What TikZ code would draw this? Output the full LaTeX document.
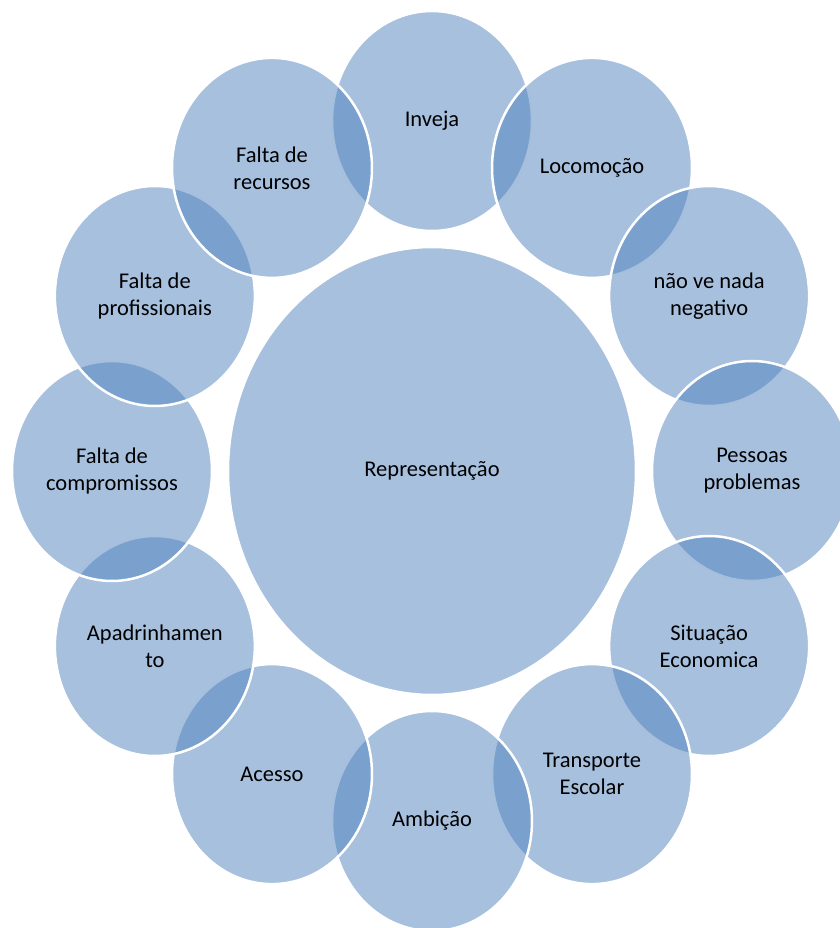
\documentclass[tikz,border=0pt]{standalone}
\usepackage{fontspec}
\setmainfont{Carlito}
\usetikzlibrary{shapes.geometric}
\definecolor{accent}{HTML}{4F81BD}
\newcommand\bolha[3]{\node[bolha] (#1) at (#2:320pt and 350pt) {#3};}

\begin{document}
\begin{tikzpicture}[x=1pt,y=1pt]
\tikzstyle{bolha}=[ellipse,draw=white,line width=2.5pt,fill=accent,fill opacity=0.5,text opacity=1,minimum width=200pt,minimum height=220pt,inner sep=0pt,align=center,font=\fontsize{22.5}{27}\selectfont]
\tikzstyle{centro}=[bolha,minimum width=408pt,minimum height=448pt]
\useasboundingbox (-432,-457) rectangle (407,471);
\node[centro] (representacao) at (0,0) {Representação};
% clockwise from the top, each one laid over the previous
\bolha{inveja}{90}{Inveja}
\bolha{locomocao}{60}{Locomoção}
\bolha{naove}{30}{não ve nada\\negativo}
\bolha{pessoas}{0}{Pessoas\\problemas}
\bolha{situacao}{-30}{Situação\\Economica}
\bolha{transporte}{-60}{Transporte\\Escolar}
\bolha{ambicao}{-90}{Ambição}
\bolha{acesso}{-120}{Acesso}
\bolha{apadrinhamento}{-150}{Apadrinhamen\\to}
\bolha{compromissos}{180}{Falta de\\compromissos}
\bolha{profissionais}{150}{Falta de\\profissionais}
\bolha{recursos}{120}{Falta de\\recursos}
\end{tikzpicture}
\end{document}
